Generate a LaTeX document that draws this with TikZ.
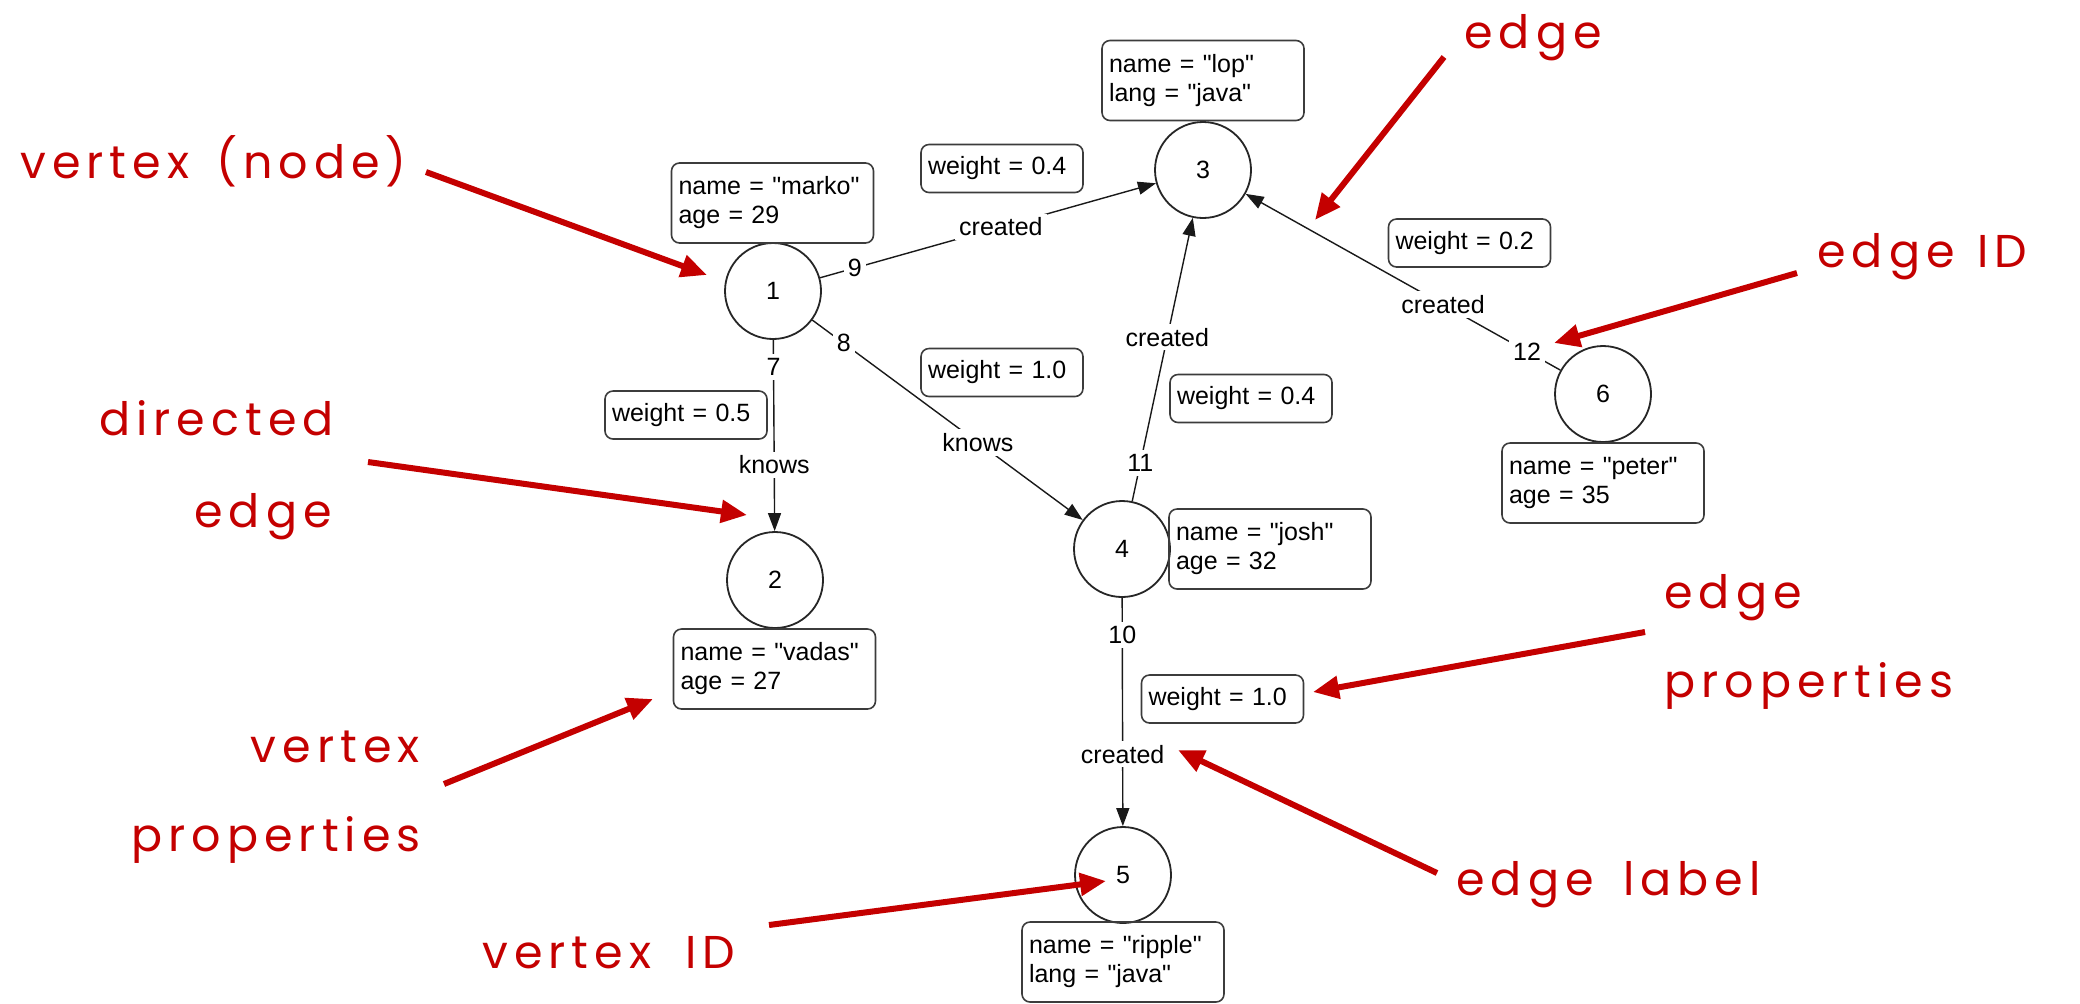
\documentclass[tikz,border=0pt]{standalone}
\usepackage{fontspec}
\setmainfont{Liberation Sans}[Ligatures=TeXOff]
\newfontfamily\handfont[LetterSpace=13]{Poppins}
\usetikzlibrary{arrows.meta,calc}
\definecolor{annred}{RGB}{196,0,0}
\definecolor{boxgray}{RGB}{60,60,60}
\begin{document}
\begin{tikzpicture}[x=0.5pt,y=-0.5pt,
  gfont/.style={font=\fontsize{12.5}{14.5}\selectfont},
  vertex/.style={circle,draw=black!85,line width=0.9pt,minimum size=48pt,inner sep=0pt,gfont},
  propbox/.style={draw=boxgray,line width=0.8pt,rounded corners=4pt,text width=94pt,align=left,minimum height=40pt,inner xsep=3.5pt,inner ysep=2pt,gfont},
  wbox/.style={propbox,text width=74pt,minimum height=24pt},
  gedge/.style={draw=black!90,line width=0.7pt,-{Triangle[length=9pt,width=6.5pt]}},
  elabel/.style={fill=white,inner sep=2pt,gfont},
  anntext/.style={text=annred,font=\handfont\fontsize{23}{28}\selectfont,inner sep=0pt},
  annarrow/.style={draw=annred,line width=3pt,-{Triangle[length=13pt,width=11pt]}},
]
\fill[white] (0,0) rectangle (2080,1003);
\useasboundingbox (0,0) rectangle (2080,1003);

% vertices
\node[vertex] (v1) at (773,291) {1};
\node[vertex] (v2) at (775,580) {2};
\node[vertex] (v3) at (1203,170) {3};
\node[vertex] (v4) at (1122,549) {4};
\node[vertex] (v5) at (1123,875) {5};
\node[vertex] (v6) at (1603,394) {6};

% vertex properties
\node[propbox] (p1) at (772.5,203) {name = "marko"\\age = 29};
\node[propbox] (p2) at (774.5,669) {name = "vadas"\\age = 27};
\node[propbox] (p3) at (1203,80.5) {name = "lop"\\lang = "java"};
\node[propbox] (p4) at (1270,549) {name = "josh"\\age = 32};
\node[propbox] (p5) at (1123,962) {name = "ripple"\\lang = "java"};
\node[propbox] (p6) at (1603,483) {name = "peter"\\age = 35};

% edge properties
\node[wbox] (w9) at (1002,168.5) {weight = 0.4};
\node[wbox] (w8) at (1002,372.5) {weight = 1.0};
\node[wbox] (w11) at (1251,398.5) {weight = 0.4};
\node[wbox] (w7) at (686,415) {weight = 0.5};
\node[wbox] (w10) at (1222.5,699) {weight = 1.0};
\node[wbox] (w12) at (1469.5,243) {weight = 0.2};

% edges
\draw[gedge] (v1) -- (v2);
\draw[gedge] (v1) -- (v4);
\draw[gedge] (v1) -- (v3);
\draw[gedge] (v4) -- (v5);
\draw[gedge] (v4) -- (v3);
\draw[gedge] (v6) -- (v3);

% edge ids and labels
\node[elabel] (i7) at ($(v1)!0.263!(v2)$) {7};
\node[elabel] (l7) at ($(v1)!0.602!(v2)$) {knows};
\node[elabel] (i8) at ($(v1)!0.203!(v4)$) {8};
\node[elabel] (l8) at ($(v1)!0.587!(v4)$) {knows};
\node[elabel] (i9) at ($(v1)!0.19!(v3)$) {9};
\node[elabel] (l9) at ($(v1)!0.53!(v3)$) {created};
\node[elabel] (i10) at ($(v4)!0.264!(v5)$) {10};
\node[elabel] (l10) at ($(v4)!0.629!(v5)$) {created};
\node[elabel] (i11) at ($(v4)!0.227!(v3)$) {11};
\node[elabel] (l11) at ($(v4)!0.559!(v3)$) {created};
\node[elabel] (i12) at ($(v6)!0.19!(v3)$) {12};
\node[elabel] (l12) at ($(v6)!0.40!(v3)$) {created};

% annotations
\node[anntext,anchor=base west] (tVN) at (20,178) {vertex\hspace{0.6em}(node)};
\node[anntext,anchor=base east] (tDir) at (334,435) {directed};
\node[anntext,anchor=base east] (tDirE) at (332,527) {edge};
\node[anntext,anchor=base east] (tVP1) at (420,762) {vertex};
\node[anntext,anchor=base east] (tVP2) at (421,851) {properties};
\node[anntext,anchor=base west] (tVID) at (482,968) {vertex\hspace{0.75em}ID};
\node[anntext,anchor=base west] (tE) at (1464,48) {edge};
\node[anntext,anchor=base west] (tEID) at (1817,267) {edge\hspace{0.5em}ID};
\node[anntext,anchor=base west] (tEP1) at (1664,608) {edge};
\node[anntext,anchor=base west] (tEP2) at (1664,697) {properties};
\node[anntext,anchor=base west] (tEL) at (1456,895) {edge\hspace{0.65em}label};

\coordinate (a1s) at (426,172); \coordinate (a1e) at (707,275);
\coordinate (a2s) at (368,462); \coordinate (a2e) at (747,515);
\coordinate (a3s) at (444,784); \coordinate (a3e) at (653,699);
\coordinate (a4s) at (769,925); \coordinate (a4e) at (1106,881);
\coordinate (a5s) at (1444,57); \coordinate (a5e) at (1315,220);
\coordinate (a6s) at (1797,273); \coordinate (a6e) at (1554,343);
\coordinate (a7s) at (1645,632); \coordinate (a7e) at (1313,692);
\coordinate (a8s) at (1437,873); \coordinate (a8e) at (1178,750);
\foreach \a in {1,...,8} {\draw[annarrow] (a\a s) -- (a\a e);}
\end{tikzpicture}
\end{document}
